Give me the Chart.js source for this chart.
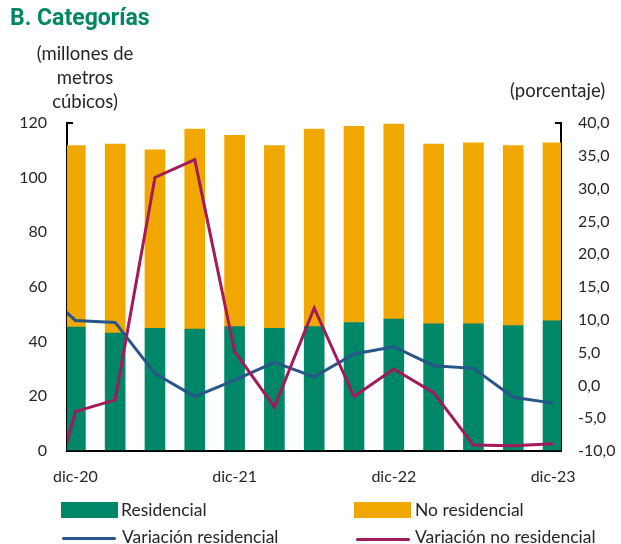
<!DOCTYPE html>
<html lang="es">
<head>
<meta charset="utf-8">
<title>B. Categorías</title>
<script src="https://cdn.jsdelivr.net/npm/chart.js@4.4.0/dist/chart.umd.min.js"></script>
<style>
  body { margin: 0; background: #fff; font-family: Lato, sans-serif; color: #262626; }
  #wrap { position: relative; width: 621px; height: 544px; overflow: hidden; }
  #grafico { position: absolute; left: 0; top: 0; }
  .txt { position: absolute; white-space: nowrap; font-size: 17.5px; line-height: 24px; }
  #titulo { left: 10px; top: 5px; font-family: Roboto, sans-serif; font-weight: bold; font-size: 23px; line-height: 26px; color: #008764; }
  #tituloIzq { left: 25px; top: 41px; width: 120px; text-align: center; font-size: 18.5px; }
  #tituloDer { left: 510px; top: 78px; font-size: 18.5px; }
  .caja { position: absolute; width: 57px; height: 16px; }
  .linea { position: absolute; width: 54px; height: 3px; border-radius: 2px; }
</style>
</head>
<body>
<div id="wrap">
  <canvas id="grafico" width="621" height="544"></canvas>
  <div class="txt" id="titulo">B. Categorías</div>
  <div class="txt" id="tituloIzq">(millones de<br>metros<br>cúbicos)</div>
  <div class="txt" id="tituloDer">(porcentaje)</div>

  <div class="caja" style="left:61px; top:502px; background:#008767"></div>
  <div class="txt" style="left:121px; top:498px">Residencial</div>
  <div class="caja" style="left:354px; top:502px; background:#f0a800"></div>
  <div class="txt" style="left:415px; top:498px">No residencial</div>
  <div class="linea" style="left:62px; top:537px; background:#27578a"></div>
  <div class="txt" style="left:122px; top:525px">Variación residencial</div>
  <div class="linea" style="left:356px; top:538px; background:#a3195b"></div>
  <div class="txt" style="left:415px; top:525px">Variación no residencial</div>
</div>

<script>
// trimestres (sep-20 solo sirve para el tramo inicial de las líneas)
var quarters = ['sep-20', 'dic-20', 'mar-21', 'jun-21', 'sep-21', 'dic-21', 'mar-22',
                'jun-22', 'sep-22', 'dic-22', 'mar-23', 'jun-23', 'sep-23', 'dic-23']
var barQuarters = quarters.slice(1)
var tickLabels = ['dic-20', 'dic-21', 'dic-22', 'dic-23']

// millones de metros cúbicos
var residencial   = [45.3, 43.1, 44.9, 44.6, 45.5, 44.9, 45.5, 47.0, 48.3, 46.5, 46.5, 45.9, 47.6]
var noResidencial = [66.4, 69.2, 65.3, 73.2, 70.0, 66.8, 72.3, 71.8, 71.3, 65.8, 66.2, 65.8, 65.1]

// porcentaje
var varResidencial   = [15.4, 9.9, 9.6, 1.8, -1.7, 0.8, 3.5, 1.3, 4.8, 5.9, 3.0, 2.6, -1.8, -2.7]
var varNoResidencial = [-26.3, -4.0, -2.2, 31.7, 34.4, 5.2, -3.3, 11.8, -1.7, 2.5, -1.1, -9.1, -9.2, -8.9]

function puntos(labels, values) {
    return labels.map((q, i) => ({ x: quarters.indexOf(q), y: values[i] }))
}

Chart.defaults.font.family = 'Lato'
Chart.defaults.font.size = 16
Chart.defaults.color = '#262626'

var ejeGrid = { display: true, offset: false, drawOnChartArea: false, drawTicks: true, tickLength: -6, color: '#000', lineWidth: 2 }
var ejeBorde = { display: true, color: '#000', width: 2 }

var myChart = new Chart(document.getElementById('grafico').getContext('2d'), {
    data: {
        datasets: [
            { type: 'line', label: 'Variación no residencial', data: puntos(quarters, varNoResidencial),
              yAxisID: 'y1', borderColor: '#a3195b', borderWidth: 3, pointRadius: 0, tension: 0, order: 0, clip: 0 },
            { type: 'line', label: 'Variación residencial', data: puntos(quarters, varResidencial),
              yAxisID: 'y1', borderColor: '#27578a', borderWidth: 3, pointRadius: 0, tension: 0, order: 1, clip: 0 },
            { type: 'bar', label: 'Residencial', data: puntos(barQuarters, residencial),
              yAxisID: 'y', backgroundColor: '#008767', barThickness: 20, order: 2, clip: 0 },
            { type: 'bar', label: 'No residencial', data: puntos(barQuarters, noResidencial),
              yAxisID: 'y', backgroundColor: '#f0a800', barThickness: 20, order: 2, clip: 0 }
        ]
    },
    options: {
        responsive: false,
        animation: false,
        devicePixelRatio: 1,
        layout: { padding: { top: 123, bottom: 53, left: 0, right: 0 } },
        plugins: { legend: { display: false }, tooltip: { enabled: false } },
        scales: {
            x: {
                type: 'linear', stacked: true, offset: false,
                min: 0.79, max: 13.2,
                grid: ejeGrid, border: ejeBorde,
                afterBuildTicks: axis => { axis.ticks = tickLabels.map(l => ({ value: quarters.indexOf(l) })) },
                afterFit: s => { s.height = 40 },
                ticks: { padding: 22, maxRotation: 0, callback: v => quarters[v] }
            },
            y: {
                position: 'left', stacked: true,
                min: 0, max: 120,
                grid: ejeGrid, border: ejeBorde,
                afterFit: s => { s.width = 67 },
                ticks: { stepSize: 20, padding: 26 }
            },
            y1: {
                position: 'right',
                min: -10, max: 40,
                grid: ejeGrid, border: ejeBorde,
                afterFit: s => { s.width = 60 },
                ticks: { stepSize: 5, padding: 23, callback: v => v.toFixed(1).replace('.', ',') }
            }
        }
    }
})
</script>
</body>
</html>
